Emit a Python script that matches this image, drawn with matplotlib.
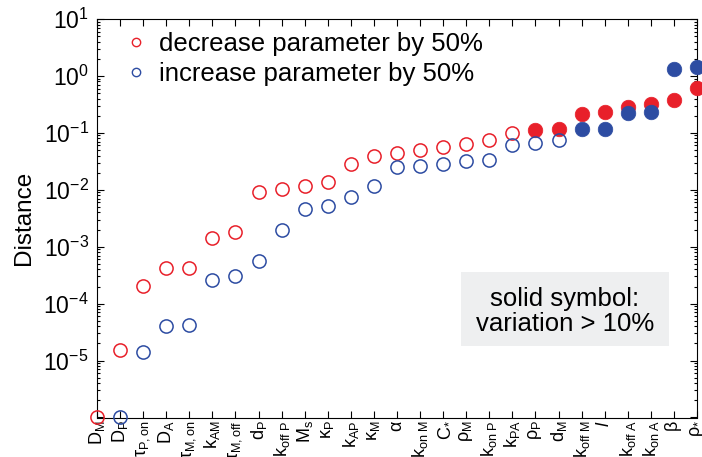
import numpy as np
import matplotlib
matplotlib.use('Agg')
import matplotlib.pyplot as plt
from matplotlib.patches import Rectangle
from matplotlib.ticker import FixedLocator, LogLocator, NullFormatter

plt.rcParams['font.family'] = ['Liberation Sans', 'DejaVu Sans']
plt.rcParams['mathtext.fontset'] = 'custom'
plt.rcParams['mathtext.rm'] = 'Liberation Sans'
plt.rcParams['mathtext.it'] = 'Liberation Sans:italic'

# parameter names along the x axis
params = [r'D$_\mathrm{M}$', r'D$_\mathrm{P}$', r'$\mathrm{\tau}_\mathrm{P,on}$', r'D$_\mathrm{A}$',
          r'$\mathrm{\tau}_\mathrm{M,on}$', r'k$_\mathrm{AM}$', r'$\mathrm{\tau}_\mathrm{M,off}$',
          r'd$_\mathrm{P}$', r'k$_\mathrm{off\ P}$', r'M$_\mathrm{s}$', r'$\mathrm{\kappa}_\mathrm{P}$',
          r'k$_\mathrm{AP}$', r'$\mathrm{\kappa}_\mathrm{M}$', r'$\mathrm{\alpha}$', r'k$_\mathrm{on\ M}$',
          r'C$_\mathrm{*}$', r'$\mathrm{\rho}_\mathrm{M}$', r'k$_\mathrm{on\ P}$', r'k$_\mathrm{PA}$',
          r'$\mathrm{\rho}_\mathrm{P}$', r'd$_\mathrm{M}$', r'k$_\mathrm{off\ M}$', r'$l$',
          r'k$_\mathrm{off\ A}$', r'k$_\mathrm{on\ A}$', r'$\mathrm{\beta}$', r'$\mathrm{\rho}_\mathrm{*}$']

# distance when the parameter is decreased / increased by 50%
dist_decrease = [1.0e-6, 1.56e-5, 2.07e-4, 4.2e-4, 4.2e-4, 1.4e-3, 1.83e-3, 8.97e-3, 1.04e-2,
                 1.17e-2, 1.35e-2, 2.86e-2, 3.95e-2, 4.4e-2, 4.9e-2, 5.75e-2, 6.4e-2, 7.5e-2,
                 0.101, 0.113, 0.117, 0.215, 0.236, 0.29, 0.32, 0.38, 0.61]
dist_increase = [np.nan, 1.0e-6, 1.4e-5, 4.0e-5, 4.15e-5, 2.57e-4, 3.0e-4, 5.5e-4, 1.93e-3,
                 4.64e-3, 5.24e-3, 7.6e-3, 1.17e-2, 2.5e-2, 2.67e-2, 2.83e-2, 3.14e-2, 3.36e-2,
                 6.15e-2, 6.76e-2, 7.5e-2, 0.119, 0.119, 0.221, 0.233, 1.31, 1.46]

# variation > 10% -> solid symbol
solid_decrease = [False] * 19 + [True] * 8
solid_increase = [False] * 21 + [True] * 6

red = '#e8202a'
blue = '#2d4ca2'

fig = plt.figure(figsize=(7.02, 4.57), dpi=100)
ax = fig.add_axes([97 / 702, 1 - 417.5 / 457, 600 / 702, 398.5 / 457])

x = np.arange(len(params))
dec = np.array(dist_decrease)
inc = np.array(dist_increase)
sd = np.array(solid_decrease)
si = np.array(solid_increase)

ms = 9.5
ax.plot(x[~sd], dec[~sd], 'o', ms=ms, mfc='none', mec=red, mew=1.1, clip_on=False, zorder=3)
ax.plot(x[sd], dec[sd], 'o', ms=ms + 1, mfc=red, mec=red, mew=0.5, clip_on=False, zorder=3)
ax.plot(x[~si], inc[~si], 'o', ms=ms, mfc='none', mec=blue, mew=1.1, clip_on=False, zorder=3)
ax.plot(x[si], inc[si], 'o', ms=ms + 1, mfc=blue, mec=blue, mew=0.5, clip_on=False, zorder=3)

# legend entries
ax.plot([], [], 'o', ms=6, mfc='none', mec=red, mew=1.0, label='decrease parameter by 50%')
ax.plot([], [], 'o', ms=6, mfc='none', mec=blue, mew=1.0, label='increase parameter by 50%')
ax.legend(loc='upper left', bbox_to_anchor=(0.02, 1.005), frameon=False, fontsize=18.5,
          handlelength=0.9, handletextpad=0.45, labelspacing=0.22, borderaxespad=0.2)

ax.set_yscale('log')
ax.set_ylim(1e-6, 10)
ax.set_xlim(0, 25.82)
ax.yaxis.set_major_locator(FixedLocator([1e-6, 1e-5, 1e-4, 1e-3, 1e-2, 1e-1, 1, 10]))
ax.yaxis.set_minor_locator(LogLocator(base=10, subs=np.arange(2, 10), numticks=20))
ax.yaxis.set_minor_formatter(NullFormatter())
ax.set_yticklabels(['', r'10$^{\mathrm{-5}}$', r'10$^{\mathrm{-4}}$', r'10$^{\mathrm{-3}}$',
                    r'10$^{\mathrm{-2}}$', r'10$^{\mathrm{-1}}$', r'10$^{\mathrm{0}}$', r'10$^{\mathrm{1}}$'],
                   fontsize=16.5)
ax.set_xticks(x)
ax.set_xticklabels(params, rotation=90, fontsize=13)
ax.tick_params(axis='both', which='both', direction='in', top=True, right=True, width=0.8)
ax.tick_params(axis='both', which='major', length=5)
ax.tick_params(axis='y', which='minor', length=2.5)
ax.tick_params(axis='x', which='major', pad=2)
ax.tick_params(axis='y', which='major', pad=6)
for s in ax.spines.values():
    s.set_linewidth(0.8)

ax.set_ylabel('Distance', fontsize=17.5, labelpad=6)

# grey note box
ax.add_patch(Rectangle((0.607, 0.179), 0.346, 0.186, transform=ax.transAxes,
                       facecolor='#eeeff0', edgecolor='none', zorder=1))
ax.text(0.78, 0.265, 'solid symbol:\nvariation > 10%', transform=ax.transAxes, ha='center', va='center',
        fontsize=18.5, linespacing=1.05, zorder=2)

fig.savefig('out.png', dpi=100)
